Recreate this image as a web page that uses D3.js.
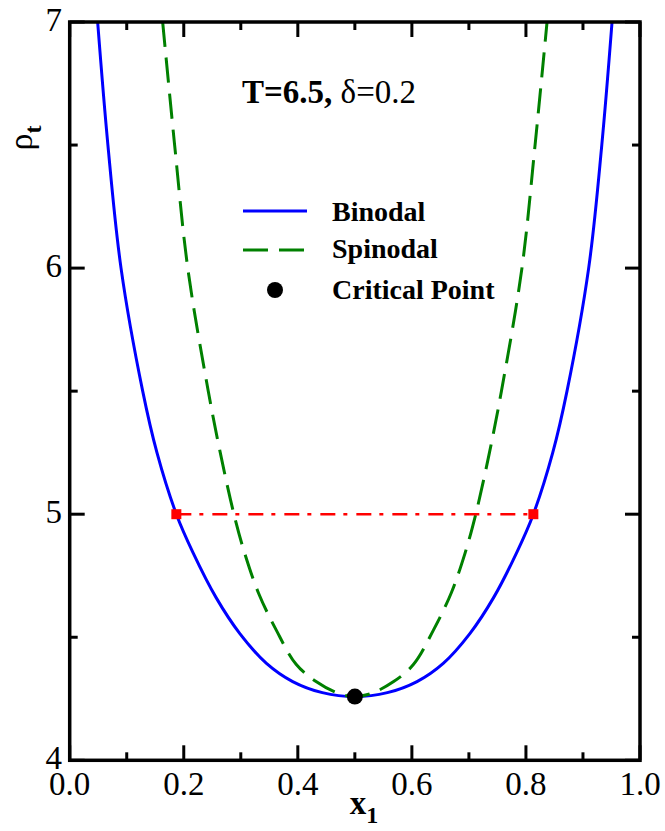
<!DOCTYPE html>
<html><head><meta charset="utf-8">
<script src="https://cdn.jsdelivr.net/npm/d3@7"></script>
<style>body{margin:0;background:#fff}svg{display:block}text{font-family:"Liberation Serif","Times New Roman",serif}</style>
</head><body>
<script>
// ---- data ----
const binodalX   = [0.049,0.067,0.090,0.128,0.153,0.187,0.216,0.257,0.298,0.345,0.391,0.443,0.5,0.557,0.609,0.655,0.702,0.743,0.784,0.813,0.847,0.872,0.910,0.933,0.951];
const binodalRho = [7.0,6.5,6.0,5.5,5.25,5.0,4.845,4.66,4.516,4.394,4.320,4.275,4.259,4.275,4.320,4.394,4.516,4.66,4.845,5.0,5.25,5.5,6.0,6.5,7.0];
const spinodalX   = [0.163,0.184,0.207,0.243,0.264,0.288,0.307,0.331,0.362,0.397,0.432,0.473,0.5,0.527,0.568,0.603,0.638,0.669,0.693,0.712,0.736,0.757,0.793,0.816,0.837];
const spinodalRho = [7.0,6.5,6.0,5.5,5.25,5.0,4.84,4.68,4.53,4.39,4.32,4.27,4.259,4.27,4.32,4.39,4.53,4.68,4.84,5.0,5.25,5.5,6.0,6.5,7.0];
const tieX   = [0.187,0.813];
const tieRho = [5.0,5.0];
const criticalX = [0.5];
const criticalRho = [4.259];
const xTicks = [0.0,0.2,0.4,0.6,0.8,1.0];
const xTickLabels = ["0.0","0.2","0.4","0.6","0.8","1.0"];
const xMinor = [0.1,0.3,0.5,0.7,0.9];
const yTicks = [4,5,6,7];
const yTickLabels = ["4","5","6","7"];
const yMinor = [4.5,5.5,6.5];
const legendLabels = ["Binodal","Spinodal","Critical Point"];

// ---- layout ----
const W=665,H=831;
const L=69.7,R=640,T=22,B=760.3;
const svg=d3.select("body").append("svg").attr("width",W).attr("height",H);
const x=d3.scaleLinear().domain([0,1]).range([L,R]);
const y=d3.scaleLinear().domain([4,7]).range([B,T]);

svg.append("defs").append("clipPath").attr("id","clip")
  .append("rect").attr("x",L).attr("y",T).attr("width",R-L).attr("height",B-T);
const plot=svg.append("g").attr("clip-path","url(#clip)");

const line=d3.line().x(d=>x(d[0])).y(d=>y(d[1])).curve(d3.curveCatmullRom.alpha(0.5));
const bin=binodalX.map((v,i)=>[v,binodalRho[i]]);
const spi=spinodalX.map((v,i)=>[v,spinodalRho[i]]);
const tie=tieX.map((v,i)=>[v,tieRho[i]]);

plot.append("path").attr("d",line(bin)).attr("fill","none").attr("stroke","#0000ff").attr("stroke-width",3);
plot.append("path").attr("d",line(spi)).attr("fill","none").attr("stroke","#008000").attr("stroke-width",3).attr("stroke-dasharray","25,11");
plot.append("path").attr("d",d3.line().x(d=>x(d[0])).y(d=>y(d[1]))(tie)).attr("fill","none").attr("stroke","#ff0000").attr("stroke-width",2.5).attr("stroke-dasharray","15,8,4,9");
plot.selectAll("rect.sq").data(tie).enter().append("rect").attr("class","sq")
  .attr("x",d=>x(d[0])-5).attr("y",d=>y(d[1])-5).attr("width",10).attr("height",10).attr("fill","#ff0000");
plot.selectAll("circle.cp").data(criticalX.map((v,i)=>[v,criticalRho[i]])).enter().append("circle")
  .attr("cx",d=>x(d[0])).attr("cy",d=>y(d[1])).attr("r",8).attr("fill","#000");

// ---- axes (ticks inward on all sides) ----
const axg=svg.append("g").attr("stroke","#000").attr("stroke-width",3);
function tickV(v,len,yy,dir){axg.append("line").attr("x1",x(v)).attr("x2",x(v)).attr("y1",yy).attr("y2",yy+dir*len);}
function tickH(v,len,xx,dir){axg.append("line").attr("y1",y(v)).attr("y2",y(v)).attr("x1",xx).attr("x2",xx+dir*len);}
xTicks.forEach(v=>{tickV(v,15,B,-1);tickV(v,15,T,1);});
xMinor.forEach(v=>{tickV(v,8,B,-1);tickV(v,8,T,1);});
yTicks.forEach(v=>{tickH(v,15,L,1);tickH(v,15,R,-1);});
yMinor.forEach(v=>{tickH(v,8,L,1);tickH(v,8,R,-1);});
svg.append("rect").attr("x",L).attr("y",T).attr("width",R-L).attr("height",B-T)
  .attr("fill","none").attr("stroke","#000").attr("stroke-width",3.5);

svg.selectAll("text.xt").data(xTicks).enter().append("text").attr("class","xt")
  .attr("x",d=>x(d)).attr("y",795).attr("text-anchor","middle").attr("font-size",33)
  .text((d,i)=>xTickLabels[i]);
svg.selectAll("text.yt").data(yTicks).enter().append("text").attr("class","yt")
  .attr("x",62).attr("y",d=>y(d)+8.5).attr("text-anchor","end").attr("font-size",33)
  .text((d,i)=>yTickLabels[i]);

// axis titles
const xl=svg.append("text").attr("x",364).attr("y",814).attr("text-anchor","middle").attr("font-size",33).attr("font-weight","bold");
xl.append("tspan").text("x");
xl.append("tspan").attr("font-size",24).attr("dy",9).text("1");
const yl=svg.append("text").attr("transform","translate(32,138) rotate(-90)").attr("text-anchor","middle").attr("font-size",34);
yl.append("tspan").text("ρ");
yl.append("tspan").attr("font-size",24).attr("font-weight","bold").attr("dy",9).text("t");

// annotation
const ann=svg.append("text").attr("x",242).attr("y",103).attr("font-size",33);
ann.append("tspan").attr("font-weight","bold").text("T=6.5,");
ann.append("tspan").text(" δ=0.2");

// legend
const lg=svg.append("g");
lg.append("line").attr("x1",243).attr("x2",307).attr("y1",211).attr("y2",211).attr("stroke","#0000ff").attr("stroke-width",3);
lg.append("line").attr("x1",243).attr("x2",307).attr("y1",250).attr("y2",250).attr("stroke","#008000").attr("stroke-width",3).attr("stroke-dasharray","25,11");
lg.append("circle").attr("cx",275).attr("cy",290).attr("r",8).attr("fill","#000");
const ly=[220.5,258,299];
lg.selectAll("text").data(legendLabels).enter().append("text").attr("x",332).attr("y",(d,i)=>ly[i])
  .attr("font-size",28).attr("font-weight","bold").text(d=>d);
</script>
</body></html>
